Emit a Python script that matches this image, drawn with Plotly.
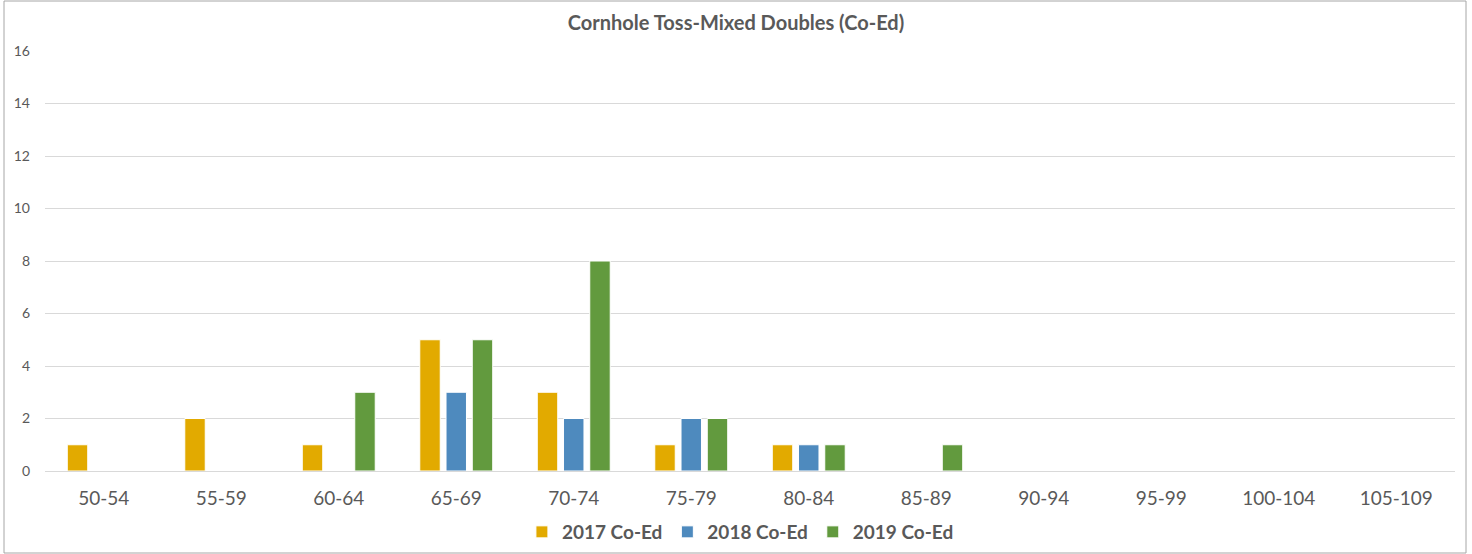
import plotly.graph_objects as go

age_groups = ["50-54", "55-59", "60-64", "65-69", "70-74", "75-79",
              "80-84", "85-89", "90-94", "95-99", "100-104", "105-109"]
coed_2017 = [1, 2, 1, 5, 3, 1, 1, 0, 0, 0, 0, 0]
coed_2018 = [0, 0, 0, 3, 2, 2, 1, 0, 0, 0, 0, 0]
coed_2019 = [0, 0, 3, 5, 8, 2, 1, 1, 0, 0, 0, 0]

series = [("2017 Co-Ed", coed_2017, "#E2AA00"),
          ("2018 Co-Ed", coed_2018, "#4E8ABE"),
          ("2019 Co-Ed", coed_2019, "#629A3E")]

grey = "#595959"

fig = go.Figure()
for name, vals, col in series:
    fig.add_trace(go.Bar(x=age_groups, y=vals, name=f"<b>{name}</b>",
                         marker=dict(color=col, line=dict(color="white", width=1))))

fig.update_layout(
    width=1472, height=554,
    margin=dict(l=45, r=17, t=51, b=83, autoexpand=False),
    paper_bgcolor="white", plot_bgcolor="white",
    font=dict(family="Lato", color=grey),
    title=dict(text="<b>Cornhole Toss-Mixed Doubles (Co-Ed)</b>", x=0.5, xanchor="center",
               yref="container", y=1 - 23 / 554, yanchor="middle",
               font=dict(size=20, color=grey)),
    barmode="group", bargap=0.33, bargroupgap=0.22,
    showlegend=True,
    legend=dict(orientation="h", x=0.503, xanchor="center", xref="container",
                yref="container", y=22 / 554, yanchor="middle",
                bgcolor="rgba(0,0,0,0)",
                font=dict(size=19, color=grey, family="Lato"), itemwidth=30,
                traceorder="normal"),
    shapes=[dict(type="rect", xref="paper", yref="paper",
                 x0=-41 / 1410, x1=1 + 11 / 1410, y0=-82 / 420, y1=1 + 50 / 420,
                 line=dict(color="#A6A6A6", width=1), fillcolor="rgba(0,0,0,0)")],
)

fig.update_xaxes(showgrid=False, showline=False, ticks="", automargin=False,
                 tickfont=dict(size=19, color=grey), ticklabelstandoff=14)
fig.update_yaxes(range=[0, 16], dtick=2, showgrid=True, gridcolor="#D9D9D9",
                 zeroline=True, zerolinecolor="#D9D9D9", zerolinewidth=1, showline=False,
                 automargin=False,
                 tickfont=dict(size=14, color=grey), ticklabelstandoff=14)

# drop the default page margin so the chart sits at the window corner
fig.write_html("out.html", config={"displayModeBar": False},
               post_script="document.body.style.margin='0';")
